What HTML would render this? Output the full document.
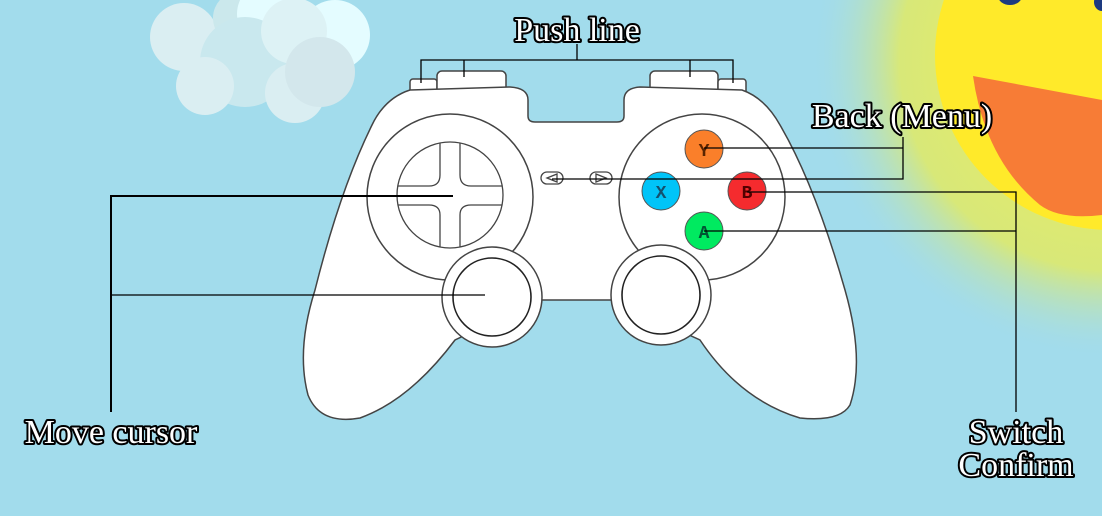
<!DOCTYPE html>
<html><head><meta charset="utf-8"><style>
html,body{margin:0;padding:0;width:1102px;height:516px;overflow:hidden;background:#a2dcec}
svg{display:block}
.t{font-family:"Liberation Serif",serif;font-size:34px;fill:#fff;stroke:#000;stroke-width:4px;paint-order:stroke;stroke-linejoin:round}
</style></head><body>
<svg width="1102" height="516" viewBox="0 0 1102 516" xmlns="http://www.w3.org/2000/svg">
<defs>
<radialGradient id="glow" cx="1110" cy="60" r="300" gradientUnits="userSpaceOnUse">
<stop offset="0.5" stop-color="#dfea70"/>
<stop offset="0.7" stop-color="#d8e878"/>
<stop offset="1" stop-color="#a2dcec" stop-opacity="0"/>
</radialGradient>
</defs>
<rect width="1102" height="516" fill="#a2dcec"/>
<circle cx="1110" cy="60" r="300" fill="url(#glow)"/>
<circle cx="1110" cy="55" r="175" fill="#ffea2a"/>
<path d="M973,76 L1102,100 L1102,215 Q1060,220 1040,205 Q985,160 973,76 Z" fill="#f77c36"/>
<ellipse cx="1010" cy="-4" rx="12" ry="9" fill="#1d3a80"/>
<ellipse cx="1102" cy="2" rx="8" ry="9" fill="#1d3a80"/>
<g>
<circle cx="184" cy="37" r="34" fill="#daeef2"/>
<circle cx="240" cy="18" r="27" fill="#cbe8ec"/>
<circle cx="270" cy="14" r="33" fill="#e4fcff"/>
<circle cx="335" cy="35" r="35" fill="#e4fcff"/>
<circle cx="245" cy="62" r="45" fill="#c9e8ee"/>
<circle cx="294" cy="31" r="33" fill="#ddf2f5"/>
<circle cx="205" cy="86" r="29" fill="#daeef2"/>
<circle cx="295" cy="93" r="30" fill="#daeef2"/>
<circle cx="320" cy="72" r="35" fill="#d3e7ec"/>
</g>
<g fill="#fff" stroke="#444" stroke-width="1.5">
<rect x="410" y="79" width="27" height="20" rx="3"/>
<rect x="437" y="71" width="69" height="25" rx="5"/>
<rect x="650" y="71" width="68" height="25" rx="5"/>
<rect x="718" y="79" width="28" height="20" rx="3"/>
<path d="M410,90 L510,87 Q528,88 528,100 L528,116 Q528,122 535,122 L617,122 Q624,122 624,116 L624,100 Q624,88 640,87 L742,90 Q765,98 780,125 Q815,185 845,290 Q865,360 850,405 Q840,422 800,418 Q740,400 700,340 L612,300 L540,300 L455,340 Q410,400 360,418 Q320,425 308,395 Q296,350 315,290 Q340,190 372,125 Q385,98 410,90 Z"/>
</g>
<g fill="#fff" stroke="#444" stroke-width="1.5">
<circle cx="450" cy="197" r="83"/>
<circle cx="702" cy="197" r="83"/>
<circle cx="492" cy="297" r="50"/>
<circle cx="661" cy="295" r="50"/>
</g>
<g fill="#fff" stroke="#222" stroke-width="1.6">
<circle cx="492" cy="297" r="39"/>
<circle cx="661" cy="295" r="39"/>
</g>
<g fill="none" stroke="#444" stroke-width="1.3">
<circle cx="450" cy="195" r="53"/>
<path d="M440,143 L440,175 Q440,186 429,186 L398,186 M460,143 L460,175 Q460,186 471,186 L502,186 M440,247 L440,215 Q440,205 429,205 L398,205 M460,247 L460,215 Q460,205 471,205 L502,205"/>
<rect x="541" y="172" width="22" height="12" rx="6" fill="#fff"/>
<rect x="590" y="172" width="22" height="12" rx="6" fill="#fff"/>
<path d="M547,178 L557,174 L557,182 Z M606,178 L596,174 L596,182 Z"/>
</g>
<g stroke="#555" stroke-width="1">
<circle cx="704" cy="149" r="19" fill="#fa7f2a"/>
<circle cx="661" cy="191" r="19" fill="#00c4f8"/>
<circle cx="747" cy="191" r="19" fill="#f52b2e"/>
<circle cx="704" cy="231" r="19" fill="#00ea60"/>
</g>
<g font-family="Liberation Mono,monospace" font-size="18" font-weight="bold" text-anchor="middle">
<text x="704" y="156" fill="#5a2400">Y</text>
<text x="661" y="198" fill="#14506e">X</text>
<text x="747" y="198" fill="#500">B</text>
<text x="704" y="238" fill="#053">A</text>
</g>
<g fill="none" stroke="#000" stroke-width="1.3">
<path d="M577,44 L577,60 M421,83 L421,60 L733,60 L733,83 M464,60 L464,77 M690,60 L690,77"/>
<path d="M903,137 L903,179 L552,179 M704,148 L903,148"/>
<path d="M747,192 L1016,192 L1016,412 M704,231 L1016,231"/>
<path d="M111,412 L111,196 L453,196" stroke-width="2"/>
<path d="M111,295 L485,295"/>
</g>
<text class="t" x="577" y="41" text-anchor="middle">Push line</text>
<text class="t" x="902" y="127" text-anchor="middle">Back (Menu)</text>
<text class="t" x="111" y="443" text-anchor="middle">Move cursor</text>
<text class="t" x="1016" y="443" text-anchor="middle">Switch</text>
<text class="t" x="1016" y="476" text-anchor="middle">Confirm</text>
</svg>
</body></html>
